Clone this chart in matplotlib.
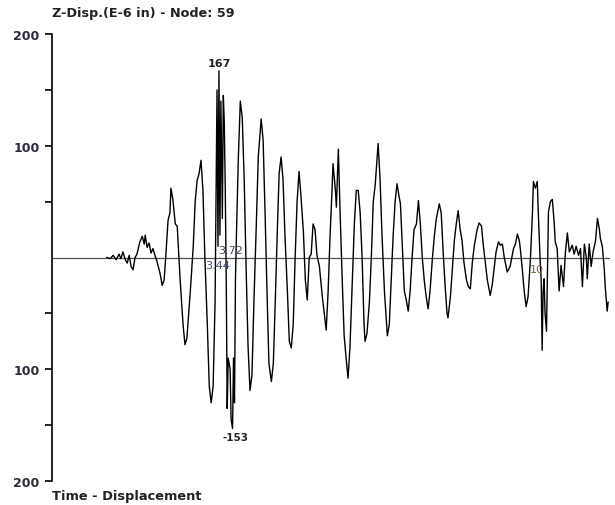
import matplotlib
matplotlib.use("Agg")
import matplotlib.pyplot as plt
from matplotlib.ticker import FixedLocator, FuncFormatter
import numpy as np

plt.rcParams['font.family'] = ['DejaVu Sans']

# time (s) and Z displacement (E-6 in)
time = [1.13, 1.20, 1.26, 1.32, 1.38, 1.42, 1.46, 1.51, 1.55, 1.59, 1.63, 1.67, 1.71, 1.75,
        1.81, 1.86, 1.90, 1.92, 1.96, 2.00, 2.04, 2.08, 2.12, 2.16, 2.23, 2.27, 2.31, 2.35,
        2.39, 2.43, 2.45, 2.49, 2.54, 2.58, 2.64, 2.70, 2.74, 2.78, 2.85, 2.91, 2.95, 2.99,
        3.03, 3.07, 3.11, 3.15, 3.20, 3.24, 3.28, 3.32, 3.36, 3.38, 3.40, 3.42, 3.44, 3.46,
        3.48, 3.51, 3.53, 3.55, 3.57, 3.59, 3.61, 3.63, 3.67, 3.69, 3.72, 3.74, 3.76, 3.78,
        3.80, 3.84, 3.88, 3.92, 3.96, 4.00, 4.04, 4.08, 4.12, 4.16, 4.21, 4.25, 4.31, 4.35,
        4.39, 4.43, 4.47, 4.52, 4.56, 4.60, 4.64, 4.68, 4.72, 4.76, 4.80, 4.85, 4.89, 4.93,
        4.97, 5.01, 5.05, 5.09, 5.13, 5.18, 5.22, 5.26, 5.30, 5.34, 5.38, 5.42, 5.46, 5.51,
        5.57, 5.61, 5.65, 5.69, 5.73, 5.77, 5.79, 5.84, 5.86, 5.90, 5.94, 5.98, 6.02, 6.06,
        6.10, 6.14, 6.19, 6.23, 6.27, 6.31, 6.35, 6.39, 6.43, 6.45, 6.49, 6.54, 6.58, 6.62,
        6.66, 6.70, 6.72, 6.76, 6.80, 6.85, 6.91, 6.95, 6.99, 7.03, 7.07, 7.11, 7.15, 7.18,
        7.22, 7.26, 7.30, 7.34, 7.38, 7.42, 7.46, 7.51, 7.55, 7.59, 7.63, 7.67, 7.71, 7.75,
        7.79, 7.84, 7.88, 7.92, 7.98, 8.02, 8.06, 8.10, 8.14, 8.16, 8.21, 8.25, 8.29, 8.33,
        8.37, 8.41, 8.45, 8.49, 8.54, 8.58, 8.62, 8.66, 8.70, 8.76, 8.80, 8.85, 8.89, 8.93,
        8.97, 9.03, 9.07, 9.11, 9.15, 9.20, 9.24, 9.28, 9.32, 9.38, 9.44, 9.51, 9.55, 9.59,
        9.63, 9.65, 9.69, 9.73, 9.77, 9.81, 9.86, 9.90, 9.92, 9.96, 10.00, 10.02, 10.06, 10.08,
        10.10, 10.12, 10.14, 10.16, 10.19, 10.21, 10.23, 10.27, 10.31, 10.35, 10.37, 10.41, 10.45, 10.49,
        10.54, 10.58, 10.62, 10.66, 10.72, 10.76, 10.80, 10.85, 10.89, 10.93, 10.97, 11.01, 11.03, 11.07,
        11.11, 11.15, 11.20, 11.24, 11.28, 11.30, 11.34, 11.38, 11.40, 11.44, 11.46]

disp = [0, -1, 2, -2, 3, -1, 5, -2, -5, 2, -8, -11, 0, 3,
        14, 19, 12, 20, 9, 13, 4, 8, 2, -3, -15, -25, -20, 5,
        33, 40, 62, 52, 30, 28, -20, -60, -78, -72, -30, 10, 50, 69,
        75, 87, 60, 0, -60, -115, -130, -115, -40, 60, 150, 10, 167, 20,
        140, 35, 145, 120, 60, -20, -135, -90, -100, -145, -153, -90, -130, -20,
        20, 90, 140, 125, 70, -10, -80, -119, -105, -40, 30, 90, 124, 105,
        40, -30, -95, -111, -95, -40, 20, 75, 90, 70, 20, -30, -75, -81,
        -60, 0, 50, 77, 55, 23, -20, -38, 0, 3, 30, 25, 2, -8,
        -35, -50, -65, -30, 20, 60, 84, 60, 45, 97, 35, -20, -70, -90,
        -108, -80, -20, 30, 60, 60, 40, 0, -60, -75, -68, -40, 0, 50,
        65, 90, 102, 70, 20, -30, -70, -60, -20, 20, 50, 66, 55, 48,
        10, -30, -38, -48, -30, 0, 25, 30, 51, 30, 0, -20, -35, -46,
        -30, 0, 20, 35, 48, 40, 5, -25, -50, -54, -35, -10, 15, 30,
        42, 25, 15, -5, -20, -26, -28, -5, 10, 25, 31, 28, 10, -5,
        -20, -34, -25, -10, 5, 14, 11, 12, 0, -13, -8, 8, 12, 21,
        15, 8, -10, -30, -44, -35, 0, 40, 68, 62, 68, 41, -4, -20,
        -83, -30, -19, -50, -66, -10, 41, 50, 52, 30, 14, 8, -30, -7,
        -26, 5, 22, 5, 11, 3, 10, 2, 8, -26, 12, 0, -19, 12,
        -8, 5, 15, 35, 25, 17, 10, -10, -26, -48, -40]

t = np.array(time)
z = np.array(disp)

fig = plt.figure(figsize=(6.15, 5.06), dpi=100)
ax = fig.add_axes([0.0846, 0.0474, 0.9074, 0.8834])

ax.axhline(0, color='#505050', lw=0.9, zorder=1)
ax.plot(t, z, color='black', lw=1.0, zorder=2)

ax.set_xlim(0, 11.5)
ax.set_ylim(-200, 200)

for s in ['top', 'right', 'bottom']:
    ax.spines[s].set_visible(False)
ax.spines['left'].set_color('black')
ax.spines['left'].set_linewidth(1.2)
ax.set_xticks([])
ax.yaxis.set_major_locator(FixedLocator([-200, -100, 100, 200]))
ax.yaxis.set_minor_locator(FixedLocator([-150, -50, 50, 150]))
ax.yaxis.set_major_formatter(FuncFormatter(lambda v, p: f'{abs(v):.0f}'))
ax.tick_params(axis='y', which='both', direction='out', length=5, width=1.2,
               colors='black', labelsize=9, pad=4)
for lab in ax.get_yticklabels():
    lab.set_fontweight('bold')
    lab.set_color('#2a2a3a')

# peak annotations
imax = int(np.argmax(z))
imin = int(np.argmin(z))
ax.text(t[imax], z[imax] + 3, f'{z[imax]}', ha='center', va='bottom',
        fontsize=8, fontweight='bold', color='#222222')
ax.text(t[imin] + 0.07, z[imin] - 3, f'{z[imin]}', ha='center', va='top',
        fontsize=7.5, fontweight='bold', color='#222222')
ax.text(t[imin] - 0.03, 2, f'{t[imin]:.2f}', ha='center', va='bottom',
        fontsize=8, color='#3c4a66')
ax.text(t[imax] - 0.02, -2, f'{t[imax]:.2f}', ha='center', va='top',
        fontsize=8, color='#3c4a66')
ax.text(10, -6, '10', ha='center', va='top', fontsize=8, color='#7a6040')

fig.text(0.0846, 1 - 14 / 506, 'Z-Disp.(E-6 in) - Node: 59', ha='left', va='center',
         fontsize=9.2, fontweight='bold', color='#222222')
fig.text(0.0846, 1 - 497 / 506, 'Time - Displacement', ha='left', va='center',
         fontsize=9.4, fontweight='bold', color='#222222')

fig.savefig('out.png', dpi=100)
